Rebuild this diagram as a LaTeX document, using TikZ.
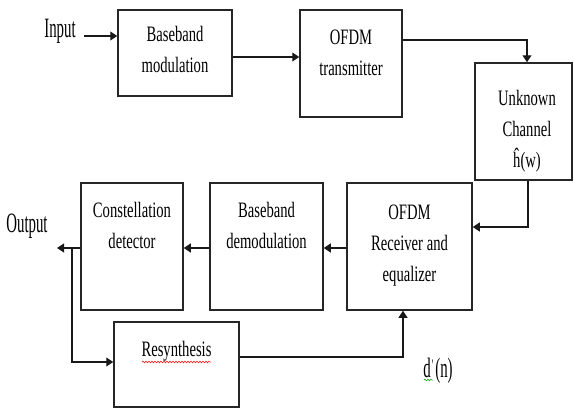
\documentclass[tikz,border=0pt]{standalone}
\usepackage{fontspec}
\setmainfont{Liberation Serif}[FakeStretch=0.665]
\newfontfamily\tallfont{Liberation Serif}[FakeStretch=0.53]
\usetikzlibrary{arrows.meta,decorations.pathmorphing}

\tikzset{
  blok/.style={draw=black!85, line width=1.5pt, inner sep=0pt, fill=white},
  txt/.style={anchor=north, align=center, inner sep=0pt, font=\fontsize{22}{31}\selectfont},
  iotxt/.style={anchor=north, inner sep=0pt, font=\tallfont\fontsize{28}{31}\selectfont},
  flow/.style={line width=1.2pt, black!90, -{Triangle[length=7pt,width=9pt]}},
  squig/.style={line width=0.5pt, decorate, decoration={snake, amplitude=0.9pt, segment length=3pt}}
}

\begin{document}
\begin{tikzpicture}[x=1pt, y=-1pt]
		%%%%% START %%%%%
		\useasboundingbox (0,0) rectangle (574,408);
		
		% upper chain
		\node[blok, minimum width=114pt, minimum height=86pt] (bbmod) at (175,53) {};
		\node[txt] (bbmod-t) at (175,26) {Baseband\\modulation};
		
		\node[blok, minimum width=102pt, minimum height=107pt] (ofdmtx) at (351,63.5) {};
		\node[txt] (ofdmtx-t) at (351,30) {OFDM\\transmitter};
		
		\node[blok, minimum width=97pt, minimum height=117pt] (chan) at (523.5,121.5) {};
		\node[txt] (chan-t) at (527,90) {Unknown\\Channel\\ĥ(w)};
		
		% lower chain
		\node[blok, minimum width=125pt, minimum height=127pt] (rx) at (409.5,246.5) {};
		\node[txt] (rx-t) at (409.5,205) {OFDM\\Receiver and\\equalizer};
		
		\node[blok, minimum width=113pt, minimum height=127pt] (bbdemod) at (266.5,246.5) {};
		\node[txt] (bbdemod-t) at (266.5,202) {Baseband\\demodulation};
		
		\node[blok, minimum width=102pt, minimum height=127pt] (det) at (132,246.5) {};
		\node[txt] (det-t) at (132,202) {Constellation\\detector};
		
		\node[blok, minimum width=125pt, minimum height=85pt] (resyn) at (176.5,364.5) {};
		\node[txt] (resyn-t) at (176.5,341) {Resynthesis};
		
		% in / out labels
		\node[iotxt] (inp) at (60,19) {Input};
		\node[iotxt] (outp) at (27,214) {Output};
		\node[iotxt] (dn) at (438,358) {d\kern1pt\raisebox{7pt}{\fontsize{16}{16}\selectfont'}\kern2pt(n)};
		
		% spell marks
		\draw[squig, red] (142,362) -- (211,362);
		\draw[squig, green!60!black] (424,380) -- (433,380);
		
		% connectors
		\coordinate (in-a) at (84,36);
		\draw[flow] (in-a) -- (bbmod.west |- in-a);
		
		\coordinate (m1) at (232,57);
		\draw[flow] (bbmod.east |- m1) -- (ofdmtx.west |- m1);
		
		\coordinate (m2) at (527,40);
		\draw[flow] (ofdmtx.east |- m2) -| (chan.north -| m2);
		
		\coordinate (m3) at (528,227);
		\draw[flow] (chan.south -| m3) |- (rx.east |- m3);
		
		\coordinate (m4) at (0,248);
		\draw[flow] (rx.west |- m4) -- (bbdemod.east |- m4);
		\draw[flow] (bbdemod.west |- m4) -- (det.east |- m4);
		
		\coordinate (out-a) at (57,248);
		\draw[flow] (det.west |- m4) -- (out-a);
		
		\coordinate (br) at (72,248);
		\coordinate (m5) at (0,362);
		\draw[flow] (br) |- (resyn.west |- m5);
		
		\coordinate (m6) at (403,357);
		\draw[flow] (resyn.east |- m6) -| (rx.south -| m6);
		
		%%%%% END %%%%%
\end{tikzpicture}
\end{document}
